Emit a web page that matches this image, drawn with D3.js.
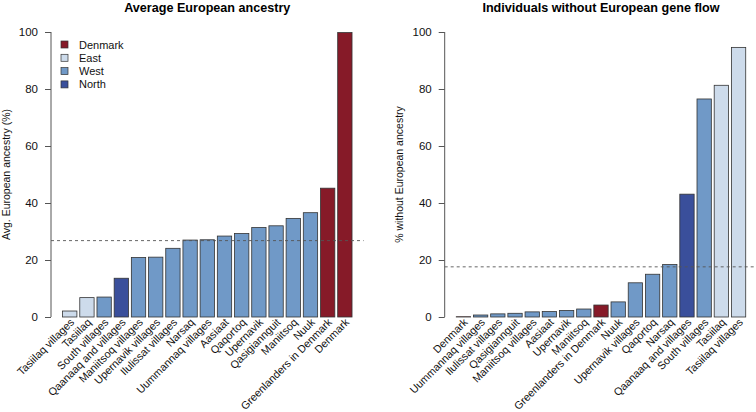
<!DOCTYPE html>
<html><head><meta charset="utf-8">
<script src="https://cdn.jsdelivr.net/npm/d3@7"></script>
<style>body{margin:0;background:#fff}svg{display:block}text{font-family:"Liberation Sans",Arial,Helvetica,sans-serif}</style>
</head><body>
<svg id="c" width="756" height="412"></svg>
<script>
// Left panel: average European ancestry
const leftCategories = ["Tasiilaq villages","Tasiilaq","South villages","Qaanaaq and villages","Maniitsoq villages","Upernavik villages","Ilulissat villages","Narsaq","Uummannaq villages","Aasiaat","Qaqortoq","Upernavik","Qasigiannguit","Maniitsoq","Nuuk","Greenlanders in Denmark","Denmark"];
const leftValues = [2.1,6.8,7.0,13.6,20.9,21.0,24.1,27.0,27.1,28.4,29.3,31.4,32.0,34.6,36.6,45.2,99.8];
const leftRegions = ["East","East","West","North","West","West","West","West","West","West","West","West","West","West","West","Denmark","Denmark"];
const leftMean = 26.8;

// Right panel: % without European ancestry
const rightCategories = ["Denmark","Uummannaq villages","Ilulissat villages","Qasigiannguit","Maniitsoq villages","Aasiaat","Upernavik","Maniitsoq","Greenlanders in Denmark","Nuuk","Upernavik villages","Qaqortoq","Narsaq","Qaanaaq and villages","South villages","Tasiilaq","Tasiilaq villages"];
const rightValues = [0.1,0.7,1.1,1.3,1.8,1.9,2.3,2.8,4.2,5.3,12.0,15.0,18.4,43.1,76.5,81.3,94.6];
const rightRegions = ["Denmark","West","West","West","West","West","West","West","Denmark","West","West","West","West","North","West","East","East"];
const rightMean = 17.6;

const yTicks = [0,20,40,60,80,100];
const legendLabels = ["Denmark","East","West","North"];
const regionColors = {Denmark:"#861a28", East:"#cddbeb", West:"#7099c7", North:"#3a4f9b"};

const svg = d3.select("#c");

function panel(opts){
  const {left, right, top, bottom, cats, vals, regs, mean, title, ylab, ylabX, legend} = opts;
  const n = cats.length;
  const lo = 0.2, hi = n*1.2, ext = (hi-lo)*0.04;
  const x = d3.scaleLinear().domain([lo-ext, hi+ext]).range([left, right]);
  const y = d3.scaleLinear().domain([-4, 104]).range([bottom, top]);
  const g = svg.append("g");

  g.append("text").attr("x",(left+right)/2).attr("y",12).attr("text-anchor","middle")
    .style("font-weight","bold").style("font-size","12.6px").style("fill","#000").text(title);

  const ax = g.append("g").attr("transform",`translate(${left},0)`)
    .call(d3.axisLeft(y).tickValues(yTicks).tickSize(6).tickPadding(7).tickSizeOuter(0));
  ax.select(".domain").attr("d",`M0,${y(0)}V${y(100)}`).attr("stroke","#555");
  ax.selectAll(".tick line").attr("stroke","#555");
  ax.selectAll(".tick text").style("font-size","11.5px").style("font-family","Liberation Sans, Arial, sans-serif").style("fill","#111");

  g.append("text").attr("transform",`translate(${ylabX},${(top+bottom)/2}) rotate(-90)`)
    .attr("text-anchor","middle").style("font-size","10.5px").style("fill","#111").text(ylab);

  g.selectAll("rect.bar").data(vals).enter().append("rect")
    .attr("x",(d,i)=>x(0.2+i*1.2)).attr("width",x(1)-x(0))
    .attr("y",d=>y(d)).attr("height",d=>y(0)-y(d))
    .attr("fill",(d,i)=>regionColors[regs[i]]).attr("stroke","#333").attr("stroke-width",0.8);

  g.append("line").attr("x1",left).attr("x2",right).attr("y1",y(mean)).attr("y2",y(mean))
    .attr("stroke","#555").attr("stroke-width",0.9).attr("stroke-dasharray","3,3");

  g.selectAll("text.cat").data(cats).enter().append("text")
    .attr("transform",(d,i)=>`translate(${x(0.7+i*1.2)+5},${y(0)+6}) rotate(-45)`)
    .attr("text-anchor","end").style("font-size","10.8px").style("fill","#111").text(d=>d);

  if(legend){
    legendLabels.forEach((l,i)=>{
      const yy = 44.5 + i*13.3;
      g.append("rect").attr("x",61).attr("y",yy-3.5).attr("width",7).attr("height",7)
        .attr("fill",regionColors[l]).attr("stroke","#333").attr("stroke-width",0.7);
      g.append("text").attr("x",79).attr("y",yy+4).style("font-size","11px").style("fill","#111").text(l);
    });
  }
}

panel({left:51,right:363.6,top:20.6,bottom:328.4,cats:leftCategories,vals:leftValues,regs:leftRegions,
  mean:leftMean,title:"Average European ancestry",ylab:"Avg. European ancestry (%)",ylabX:10,legend:true});
panel({left:444.7,right:757.3,top:20.6,bottom:328.4,cats:rightCategories,vals:rightValues,regs:rightRegions,
  mean:rightMean,title:"Individuals without European gene flow",ylab:"% without European ancestry",ylabX:403,legend:false});
</script>
</body></html>
